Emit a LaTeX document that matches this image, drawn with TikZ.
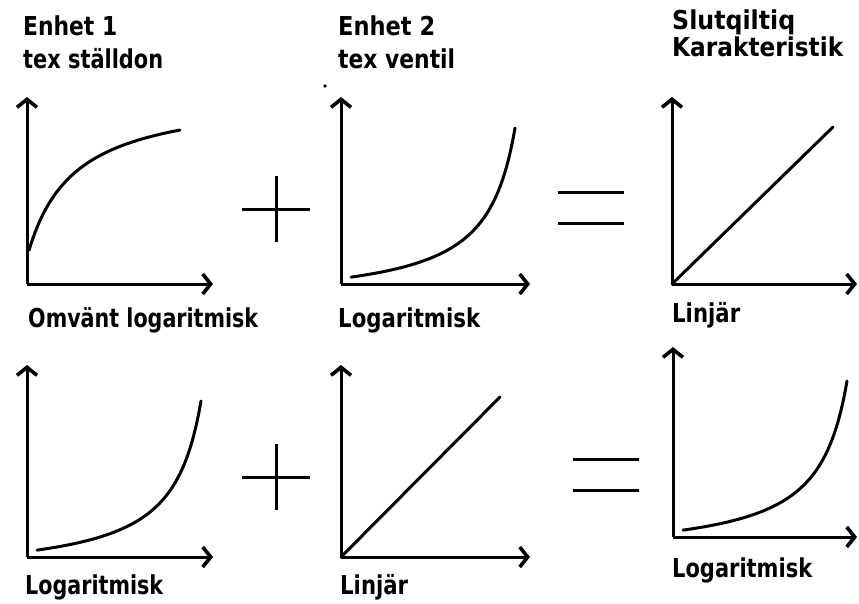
\documentclass[tikz,border=0pt]{standalone}
\usepackage{fontspec}
\setmainfont{DejaVu Sans}
\usetikzlibrary{arrows.meta,calc}
\newcommand\fitw[2]{\resizebox{#1pt}{\height}{#2}}
\tikzset{
  txt/.style={anchor=base west, inner sep=0pt, font=\bfseries\fontsize{26}{30}\selectfont},
  axis/.style={line width=3pt, -{Straight Barb[length=8pt,width=20pt,line width=3.6pt]}},
  curve/.style={line width=3pt, line cap=round},
  sign/.style={line width=3pt}
}
\begin{document}
\begin{tikzpicture}[x=1pt,y=-1pt]
\useasboundingbox (0,0) rectangle (859,603);
% headings
\node[txt] (h1) at (23,35) {\fitw{94}{Enhet 1}};
\node[txt] (s1) at (23,68) {\fitw{140}{tex ställdon}};
\node[txt] (h2) at (338,35) {\fitw{97}{Enhet 2}};
\node[txt] (s2) at (338,68) {\fitw{117}{tex ventil}};
\node[txt] (h3) at (672,29) {\fitw{123}{Slutqiltiq}};
\node[txt] (s3) at (672,56) {\fitw{171}{Karakteristik}};
% labels
\node[txt] (l1) at (28,327) {\fitw{230}{Omvänt logaritmisk}};
\node[txt] (l2) at (338,327) {\fitw{142}{Logaritmisk}};
\node[txt] (l3) at (672,322) {\fitw{68}{Linjär}};
\node[txt] (l4) at (25,594) {\fitw{138}{Logaritmisk}};
\node[txt] (l5) at (340,594) {\fitw{68}{Linjär}};
\node[txt] (l6) at (672,577) {\fitw{140}{Logaritmisk}};
% origins and axis ends
\coordinate (o1) at (27,284);  \coordinate (y1) at (27,97);  \coordinate (x1) at (213,284);
\coordinate (o2) at (341,284); \coordinate (y2) at (341,97); \coordinate (x2) at (530,284);
\coordinate (o3) at (672,284); \coordinate (y3) at (672,97); \coordinate (x3) at (857,284);
\coordinate (o4) at (27,557);  \coordinate (y4) at (27,365); \coordinate (x4) at (213,557);
\coordinate (o5) at (341,557); \coordinate (y5) at (341,365); \coordinate (x5) at (530,557);
\coordinate (o6) at (673,537); \coordinate (y6) at (673,347); \coordinate (x6) at (857,537);
\foreach \i in {1,...,6}{
  \draw[axis] (o\i) -- (y\i);
  \draw[axis] (o\i) -- (x\i);
}
% inverse logarithmic curve
\begin{scope}[shift={(o1)}]
  \draw[curve] plot[domain=2:153, samples=80] ({\x},{-(191.8-7504/(\x+45.47))});
\end{scope}
% logarithmic curves
\foreach \i in {2,4,6}{
  \begin{scope}[shift={(o\i)}]
    \draw[curve] plot[domain=10:174, samples=80] ({\x},{-(5292/(204-\x)-20.4)});
  \end{scope}
}
% linear
\coordinate (e3) at (833,127);
\coordinate (e5) at (500,397);
\draw[curve] (o3) -- (e3);
\draw[curve] (o5) -- (e5);
% plus signs
\coordinate (p1) at (276,209);
\coordinate (p2) at (276,477);
\foreach \p in {p1,p2}{
  \draw[sign] ($(\p)+(-34,0)$) -- ($(\p)+(34,0)$);
  \draw[sign] ($(\p)+(0,-33)$) -- ($(\p)+(0,33)$);
}
% equals signs
\coordinate (q1) at (591,207);
\coordinate (q2) at (606,474);
\foreach \q in {q1,q2}{
  \draw[sign] ($(\q)+(-33,-15)$) -- ($(\q)+(33,-15)$);
  \draw[sign] ($(\q)+(-33,16)$) -- ($(\q)+(33,16)$);
}
% stray dot
\fill (325,86) circle (1.8);
\end{tikzpicture}
\end{document}
